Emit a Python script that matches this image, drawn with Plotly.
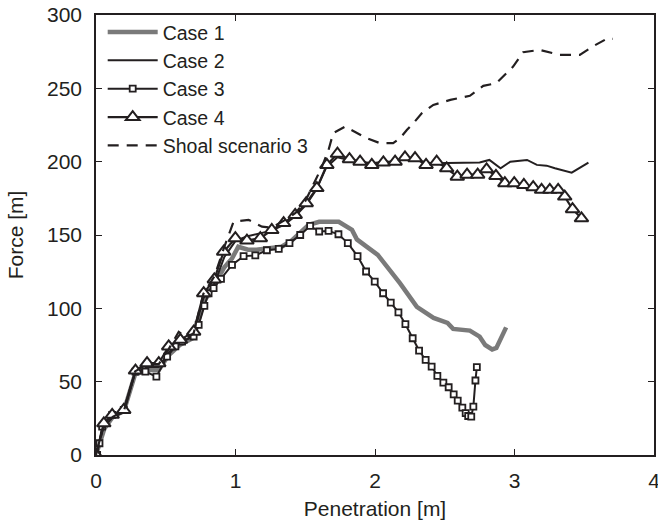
import plotly.graph_objects as go

# ---- data ----
case1_x = [0, 0.03, 0.06, 0.12, 0.2, 0.28, 0.37, 0.45, 0.52, 0.6, 0.7, 0.77, 0.85, 0.92, 0.975, 1.02, 1.09,
           1.15, 1.25, 1.33, 1.4, 1.47, 1.525, 1.6, 1.74, 1.835, 1.87, 2.02, 2.18, 2.30, 2.42, 2.52, 2.56,
           2.68, 2.75, 2.79, 2.84, 2.87, 2.90, 2.94]
case1_y = [0, 8, 18, 26, 30, 55, 58, 58, 68, 75, 80, 104, 116, 128, 134, 142, 140,
           140, 141, 142, 146, 152, 157, 159, 159, 153.5, 147, 136.4, 117, 101, 93.5, 90, 86,
           84.8, 80.7, 75, 72, 73, 78.5, 87]

case2_x = [0, 0.05, 0.12, 0.2, 0.28, 0.37, 0.45, 0.52, 0.6, 0.7, 0.77, 0.85, 0.92, 1.0, 1.08, 1.18,
           1.26, 1.35, 1.43, 1.51, 1.58, 1.65, 1.73, 1.82, 1.9, 1.98, 2.06, 2.14, 2.22, 2.3, 2.4,
           2.5, 2.61, 2.75, 2.82, 2.9, 2.97, 3.09, 3.16, 3.23, 3.29, 3.41, 3.53]
case2_y = [0, 18, 26, 29, 56, 60, 60, 70, 76, 82, 107, 117, 135, 146, 149, 151,
           153, 157, 163, 171, 181, 196, 203, 201, 200, 199, 200, 200, 202, 201, 199,
           199, 199.4, 199.4, 201.2, 195.5, 200, 201.2, 197.8, 197.3, 195.5, 192.5, 199.4]

case3_x = [0.008, 0.025, 0.044, 0.116, 0.199, 0.283, 0.354, 0.433, 0.51, 0.569, 0.617, 0.70, 0.736,
           0.777, 0.807, 0.843, 0.896, 0.975, 1.058, 1.142, 1.225, 1.31, 1.387, 1.464, 1.535, 1.60,
           1.667, 1.738, 1.805, 1.875, 1.936, 1.998, 2.058, 2.113, 2.168, 2.218, 2.27, 2.316, 2.363,
           2.406, 2.447, 2.49, 2.528, 2.564, 2.593, 2.626, 2.65, 2.668, 2.69, 2.705, 2.72, 2.73]
case3_y = [0, 8, 19.3, 27.4, 30.7, 56.9, 56.9, 53.4, 67.1, 74, 77.3, 80.8, 88.7,
           101.7, 110.3, 113.8, 120.1, 129.6, 135.6, 136.1, 139.6, 140.5, 144.5, 150, 156.2, 152.4,
           152.8, 150.5, 144.5, 135.6, 125.1, 118.2, 110.3, 103.9, 97.3, 89.2, 79.6, 71.2, 64.8,
           60.3, 54, 49.4, 46.2, 41.4, 37.1, 32.3, 28.6, 26.6, 26.2, 33, 50.8, 59.9]

case4_x = [0, 0.056, 0.116, 0.199, 0.283, 0.366, 0.45, 0.521, 0.605, 0.70, 0.772, 0.848, 0.915, 0.999,
           1.082, 1.178, 1.26, 1.345, 1.428, 1.507, 1.583, 1.655, 1.731, 1.817, 1.893, 1.977, 2.06,
           2.144, 2.215, 2.287, 2.366, 2.442, 2.514, 2.59, 2.66, 2.736, 2.80, 2.867, 2.931, 2.998,
           3.067, 3.134, 3.194, 3.253, 3.313, 3.36, 3.416, 3.48]
case4_y = [0, 21.6, 27.4, 30.7, 57.6, 62.6, 62.6, 74, 78.5, 84.1, 110.3, 119.7, 138.6, 147.8,
           146.2, 147.8, 153.4, 158.1, 163.7, 171.7, 182, 197.8, 205.4, 201.7, 200, 197.8, 199.5,
           200, 203, 202.4, 197.8, 200, 195.5, 189.8, 191.1, 191.1, 194.8, 190.3, 185.3, 185.3,
           184.1, 182.6, 180.8, 180.8, 180.8, 176.2, 167.6, 161.4]

shoal_x = [0, 0.05, 0.12, 0.2, 0.28, 0.37, 0.45, 0.52, 0.593, 0.65, 0.7, 0.77, 0.85, 0.92, 0.986,
           1.094, 1.19, 1.26, 1.35, 1.43, 1.5, 1.56, 1.62, 1.667, 1.70, 1.786, 1.94, 2.036, 2.085,
           2.13, 2.18, 2.228, 2.275, 2.335, 2.418, 2.54, 2.68, 2.776, 2.87, 2.99, 3.062, 3.18,
           3.325, 3.468, 3.56, 3.66, 3.706]
shoal_y = [0, 18, 26, 30, 57, 62, 62, 72, 84, 80, 83, 110, 122, 142, 159,
           160.3, 155.7, 155, 160, 165, 173, 185.3, 196.6, 208, 219.4, 223.9, 216, 212.6, 212.6,
           212.6, 216, 221.6, 226.2, 233, 238.7, 242.1, 244.9, 251.7, 253.5, 264.8, 274.6, 276.2,
           272.8, 272.8, 278.5, 283.7, 283.7]

names = ["Case 1", "Case 2", "Case 3", "Case 4", "Shoal scenario 3"]
x_ticks = [0, 1, 2, 3, 4]
y_ticks = [0, 50, 100, 150, 200, 250, 300]

INK = "#231f20"
FONT = "Liberation Sans, Arial, sans-serif"

fig = go.Figure()
fig.add_trace(go.Scatter(x=case1_x, y=case1_y, name=names[0], mode="lines",
                         line=dict(color="#7a7a7a", width=4.5)))
fig.add_trace(go.Scatter(x=case2_x, y=case2_y, name=names[1], mode="lines",
                         line=dict(color=INK, width=2)))
fig.add_trace(go.Scatter(x=case3_x, y=case3_y, name=names[2], mode="lines+markers",
                         line=dict(color=INK, width=2),
                         marker=dict(symbol="square", size=6, color="white",
                                     line=dict(color=INK, width=1.8))))
fig.add_trace(go.Scatter(x=case4_x, y=case4_y, name=names[3], mode="lines+markers",
                         line=dict(color=INK, width=2.2),
                         marker=dict(symbol="triangle-up", size=12, color="white",
                                     line=dict(color=INK, width=2))))
fig.add_trace(go.Scatter(x=shoal_x, y=shoal_y, name=names[4], mode="lines",
                         line=dict(color=INK, width=2.2, dash="11px,8px")))

axis_common = dict(showgrid=False, zeroline=False, showline=True, linecolor=INK, linewidth=1.5,
                   mirror="ticks", ticks="inside", ticklen=6, tickwidth=1.2, tickcolor=INK,
                   automargin=False, ticklabeloverflow="allow",
                   tickfont=dict(family=FONT, size=21, color=INK))

fig.update_layout(
    width=658, height=527,
    margin=dict(l=96, r=4, t=15, b=72),
    paper_bgcolor="white", plot_bgcolor="white",
    font=dict(family=FONT, size=21, color=INK),
    xaxis=dict(range=[0, 4], tickvals=x_ticks, ticklabelstandoff=6,
               title=dict(text="Penetration [m]", font=dict(family=FONT, size=21, color=INK), standoff=10),
               **axis_common),
    yaxis=dict(range=[0, 300], tickvals=y_ticks, ticklabelstandoff=8,
               title=dict(text="Force [m]", font=dict(family=FONT, size=21, color=INK), standoff=18),
               **axis_common),
    legend=dict(x=0.012, y=1.005, xanchor="left", yanchor="top", bgcolor="rgba(0,0,0,0)",
                font=dict(family=FONT, size=19.5, color=INK), itemwidth=50, tracegroupgap=0),
    showlegend=True,
)

fig.write_html("out.html")
